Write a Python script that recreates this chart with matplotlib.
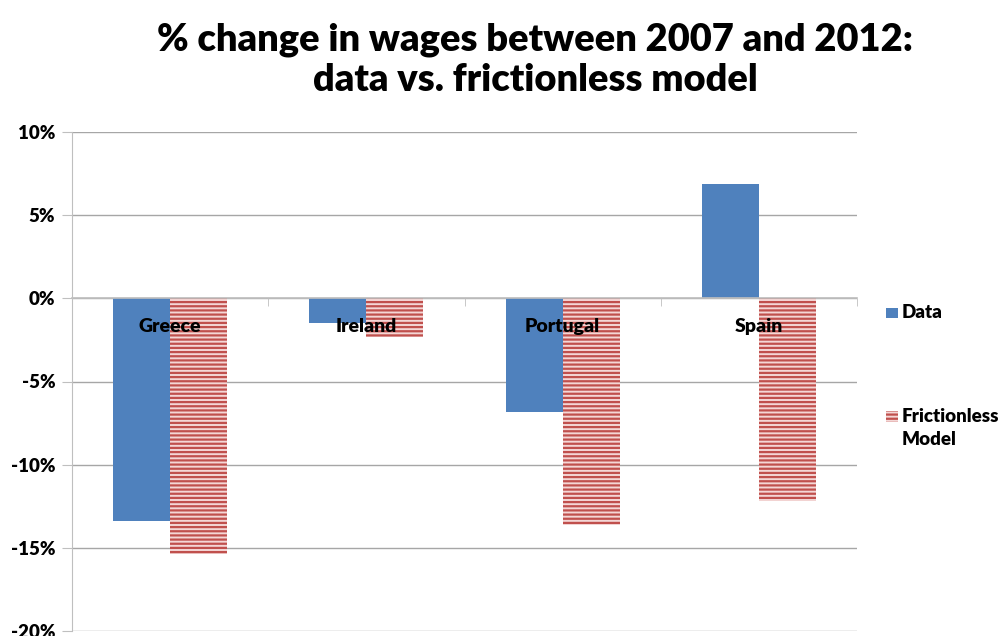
import matplotlib
matplotlib.use("Agg")
import matplotlib.pyplot as plt
from matplotlib.patches import Rectangle
from matplotlib.ticker import FuncFormatter, FixedLocator
import numpy as np

categories = ["Greece", "Ireland", "Portugal", "Spain"]
data_vals = [-13.4, -1.5, -6.85, 6.9]
model_vals = [-15.4, -2.3, -13.6, -12.2]
y_ticks = [-20, -15, -10, -5, 0, 5, 10]
series_names = ["Data", "Frictionless\nModel"]

plt.rcParams['font.family'] = ['Lato', 'DejaVu Sans']
plt.rcParams['hatch.linewidth'] = 1.6

W, H = 1001, 636
fig = plt.figure(figsize=(W/100, H/100), dpi=100)
ax = fig.add_axes([72/W, 5/H, 785/W, 499/H])

x = np.arange(len(categories))
w = 0.29
blue = "#4F81BD"
red = "#C0504D"
pink = "#F4D7D6"
ax.bar(x - w/2, data_vals, w, color=blue, zorder=2)
ax.bar(x + w/2, model_vals, w, facecolor=pink, edgecolor=red, hatch="----",
       linewidth=0, zorder=2)

ax.set_xlim(-0.5, len(categories) - 0.5)
ax.set_ylim(-20, 10)
ax.set_yticks(y_ticks)
ax.yaxis.set_major_formatter(FuncFormatter(lambda v, p: f"{int(v)}%"))
ax.set_axisbelow(True)
ax.yaxis.grid(True, color="#A6A6A6", linewidth=1.0)
ax.xaxis.set_zorder(3)

ax.spines['top'].set_visible(False)
ax.spines['right'].set_visible(False)
ax.spines['left'].set_color("#BFBFBF")
ax.spines['bottom'].set_position(('data', 0))
ax.spines['bottom'].set_color("#BFBFBF")
ax.spines['bottom'].set_linewidth(1.2)

ax.set_xticks(x)
ax.set_xticklabels(categories, fontsize=14, fontweight='heavy')
ax.tick_params(axis='x', length=0, pad=14)
ax.xaxis.set_minor_locator(FixedLocator([-0.5, 0.5, 1.5, 2.5, 3.5]))
ax.tick_params(axis='x', which='minor', length=6, color="#BFBFBF", direction='out')
ax.tick_params(axis='y', length=7, color="#BFBFBF", labelsize=13.5, pad=5)
for lab in ax.get_yticklabels():
    lab.set_fontweight('heavy')

# legend (manual, Excel-style)
fig.add_artist(Rectangle((886/W, 1 - 318/H), 12/W, 10/H, transform=fig.transFigure,
                         facecolor=blue, linewidth=0))
fig.text(902/W, 1 - 312/H, series_names[0], ha='left', va='center',
         fontsize=13.5, fontweight='heavy')
fig.add_artist(Rectangle((886/W, 1 - 422/H), 12/W, 11/H, transform=fig.transFigure,
                         facecolor=pink, edgecolor=red, hatch="----", linewidth=0))
fig.text(902/W, 1 - 428/H, series_names[1], ha='left', va='center',
         fontsize=13.5, fontweight='heavy', linespacing=1.45)

fig.text(535/W, 1 - 60/H, "% change in wages between 2007 and 2012:\ndata vs. frictionless model",
         ha='center', va='center', fontsize=27.4, fontweight='heavy', linespacing=1.22)

fig.savefig("out.png", dpi=100)
